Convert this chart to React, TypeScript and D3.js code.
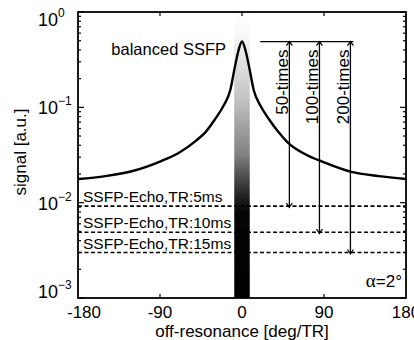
import * as React from "react"
import { useEffect, useRef } from "react"
import * as d3 from "d3"

// balanced SSFP profile
const offRes = [-180, -150, -120, -90, -70, -50, -40, -30, -20, -13, -8, -4, 0, 4, 8, 13, 20, 30, 40, 50, 70, 90, 120, 150, 180]
const bssfp = [0.0177, 0.019, 0.0215, 0.027, 0.033, 0.045, 0.055, 0.074, 0.105, 0.15, 0.26, 0.39, 0.49, 0.39, 0.26, 0.15, 0.105, 0.074, 0.055, 0.043, 0.032, 0.0265, 0.021, 0.019, 0.0177]

// SSFP-Echo levels
const echoLabels = ["SSFP-Echo,TR:5ms", "SSFP-Echo,TR:10ms", "SSFP-Echo,TR:15ms"]
const echoLevels = [0.0092, 0.0049, 0.003]

// ratio arrows
const arrowLabels = ["50-times", "100-times", "200-times"]
const arrowOffRes = [52, 85, 119]
const bracketStart = 20

const xTicks = [-180, -90, 0, 90, 180]
const yTicks = [1, 0.1, 0.01, 0.001]
const yTickExp = ["0", "\u22121", "\u22122", "\u22123"]

const FONT = "'Liberation Sans', Arial, sans-serif"

export default function App() {
  const ref = useRef<SVGSVGElement | null>(null)

  useEffect(() => {
    if (!ref.current) return
    const svg = d3.select(ref.current)
    svg.selectAll("*").remove()

    const L = 78, R = 406, T = 12, B = 298
    const x = d3.scaleLinear().domain([-180, 180]).range([L, R])
    const y = d3.scaleLog().domain([0.001, 1]).range([B, T])

    // gradient bar around on-resonance
    const defs = svg.append("defs")
    const grad = defs.append("linearGradient")
      .attr("id", "bar")
      .attr("gradientUnits", "userSpaceOnUse")
      .attr("x1", 0).attr("x2", 0).attr("y1", T).attr("y2", B)
    const stops: [number, string][] = [[0, "#ffffff"], [0.08, "#f8f8f8"], [0.3, "#c4c4c4"], [0.5, "#808080"], [0.63, "#2a2a2a"], [0.7, "#050505"], [1, "#000000"]]
    stops.forEach(([o, c]) => grad.append("stop").attr("offset", o).attr("stop-color", c))
    svg.append("rect")
      .attr("x", x(-8.5)).attr("y", T)
      .attr("width", x(8.5) - x(-8.5)).attr("height", B - T)
      .attr("fill", "url(#bar)")

    // echo dashed lines
    echoLevels.forEach((v, i) => {
      svg.append("line")
        .attr("x1", L).attr("x2", R)
        .attr("y1", y(v)).attr("y2", y(v))
        .attr("stroke", "#000").attr("stroke-width", 1.6)
        .attr("stroke-dasharray", "4,2.5")
      svg.append("text")
        .attr("x", L + 5).attr("y", y(v) - 4)
        .attr("font-family", FONT).attr("font-size", 15.5)
        .text(echoLabels[i])
    })

    // bSSFP curve
    const line = d3.line<number>()
      .x((_, i) => x(offRes[i]))
      .y(d => y(d))
      .curve(d3.curveMonotoneX)
    svg.append("path")
      .datum(bssfp)
      .attr("fill", "none")
      .attr("stroke", "#000")
      .attr("stroke-width", 2.4)
      .attr("d", line)

    // arrows
    const peak = d3.max(bssfp) as number
    const yp = y(peak)
    svg.append("line")
      .attr("x1", x(bracketStart)).attr("x2", x(arrowOffRes[2]) + 3)
      .attr("y1", yp).attr("y2", yp)
      .attr("stroke", "#000").attr("stroke-width", 1.3)
    arrowOffRes.forEach((a, i) => {
      const ax = x(a)
      const ye = y(echoLevels[i])
      svg.append("line")
        .attr("x1", ax).attr("x2", ax).attr("y1", yp).attr("y2", ye + 2)
        .attr("stroke", "#000").attr("stroke-width", 1.3)
      svg.append("path")
        .attr("d", `M${ax - 3},${yp + 4}L${ax},${yp}L${ax + 3},${yp + 4}`)
        .attr("fill", "none").attr("stroke", "#000").attr("stroke-width", 1.2)
      svg.append("path")
        .attr("d", `M${ax - 3},${ye - 3}L${ax},${ye + 1}L${ax + 3},${ye - 3}`)
        .attr("fill", "none").attr("stroke", "#000").attr("stroke-width", 1.2)
      svg.append("text")
        .attr("transform", `translate(${ax - 1.5},${yp + 8}) rotate(-90)`)
        .attr("text-anchor", "end")
        .attr("font-family", FONT).attr("font-size", 17)
        .text(arrowLabels[i])
    })

    // frame
    svg.append("rect")
      .attr("x", L).attr("y", T).attr("width", R - L).attr("height", B - T)
      .attr("fill", "none").attr("stroke", "#000").attr("stroke-width", 1.8)

    // ticks
    const tk = svg.append("g").attr("stroke", "#000").attr("stroke-width", 1.2)
    xTicks.slice(1, -1).forEach(t => {
      tk.append("line").attr("x1", x(t)).attr("x2", x(t)).attr("y1", B).attr("y2", B - 4)
      tk.append("line").attr("x1", x(t)).attr("x2", x(t)).attr("y1", T).attr("y2", T + 4)
    })
    const minor: number[] = []
    for (let e = -3; e < 0; e++) for (let m = 2; m < 10; m++) minor.push(m * Math.pow(10, e))
    minor.forEach(v => {
      tk.append("line").attr("x1", L).attr("x2", L + 3).attr("y1", y(v)).attr("y2", y(v))
      tk.append("line").attr("x1", R).attr("x2", R - 3).attr("y1", y(v)).attr("y2", y(v))
    })
    yTicks.forEach(v => {
      tk.append("line").attr("x1", L).attr("x2", L + 6).attr("y1", y(v)).attr("y2", y(v))
      tk.append("line").attr("x1", R).attr("x2", R - 6).attr("y1", y(v)).attr("y2", y(v))
    })

    // tick labels
    yTicks.forEach((v, i) => {
      const by = Math.min(Math.max(y(v) + 7, 26), B)
      const t = svg.append("text")
        .attr("x", 38).attr("y", by)
        .attr("font-family", FONT).attr("font-size", 18)
      t.append("tspan").text("10")
      t.append("tspan").attr("dy", -9).attr("font-size", 12).text(yTickExp[i])
    })
    xTicks.forEach((v, i) => {
      svg.append("text")
        .attr("x", x(v) + (i === 0 ? 6 : 0)).attr("y", 318)
        .attr("text-anchor", "middle")
        .attr("font-family", FONT).attr("font-size", 17)
        .text(v)
    })

    // axis titles
    svg.append("text")
      .attr("x", (L + R) / 2).attr("y", 337)
      .attr("text-anchor", "middle")
      .attr("font-family", FONT).attr("font-size", 17)
      .text("off-resonance [deg/TR]")
    svg.append("text")
      .attr("transform", `translate(26,152) rotate(-90)`)
      .attr("text-anchor", "middle")
      .attr("font-family", FONT).attr("font-size", 17)
      .text("signal [a.u.]")

    svg.append("text")
      .attr("x", 226).attr("y", 55)
      .attr("text-anchor", "end")
      .attr("font-family", FONT).attr("font-size", 16.5)
      .text("balanced SSFP")

    const al = svg.append("text")
      .attr("x", 402).attr("y", 287)
      .attr("text-anchor", "end")
      .attr("font-family", FONT).attr("font-size", 17)
    al.append("tspan").attr("font-family", "'Liberation Serif', 'Times New Roman', serif").attr("font-size", 19).text("\u03b1")
    al.append("tspan").text("=2\u00b0")
  }, [])

  return (
    <svg ref={ref} width={414} height={340}
      style={{ position: "absolute", left: 0, top: 0, background: "#fff" }} />
  )
}
